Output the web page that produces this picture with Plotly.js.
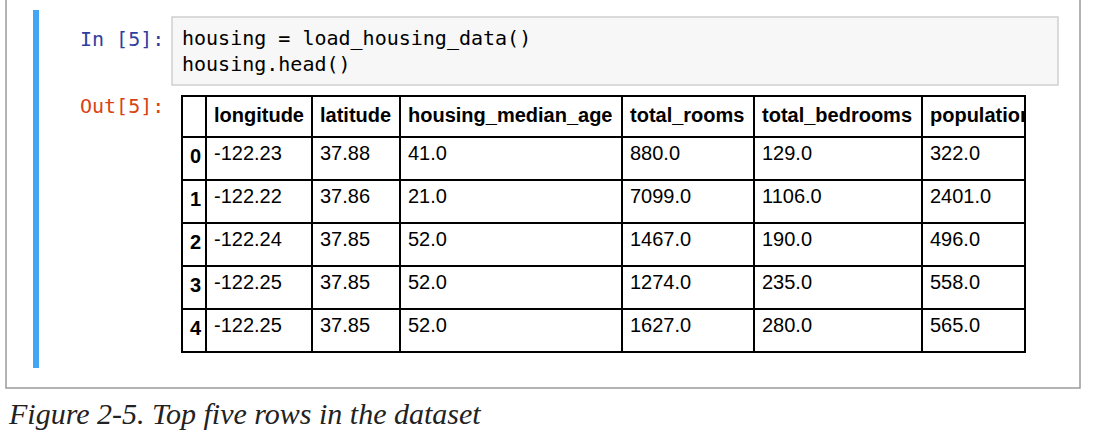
<!DOCTYPE html>
<html>
<head>
<meta charset="utf-8">
<script src="https://cdn.plot.ly/plotly-3.0.1.min.js"></script>
<style>html,body{margin:0;padding:0;background:#fff;}#chart{width:1098px;height:435px;}</style>
</head>
<body>
<div id="chart"></div>
<script>
// data from housing.head()
var headers = ['', 'longitude', 'latitude', 'housing_median_age', 'total_rooms', 'total_bedrooms', 'population'];
var rowIndex = [0, 1, 2, 3, 4];
var longitude = [-122.23, -122.22, -122.24, -122.25, -122.25];
var latitude = [37.88, 37.86, 37.85, 37.85, 37.85];
var housingMedianAge = [41.0, 21.0, 52.0, 52.0, 52.0];
var totalRooms = [880.0, 7099.0, 1467.0, 1274.0, 1627.0];
var totalBedrooms = [129.0, 1106.0, 190.0, 235.0, 280.0];
var population = [322.0, 2401.0, 496.0, 558.0, 565.0];

var W = 1098, H = 435;
function px(x) { return x / W; }
function py(y) { return 1 - y / H; }

var table = {
  type: 'table',
  domain: {x: [px(182), px(1025)], y: [py(356), py(96)]},
  columnwidth: [24, 106, 88, 222, 132, 168, 103],
  header: {
    values: headers.map(function(h) { return '<b>' + h + '</b>'; }),
    align: 'left',
    height: 41,
    line: {color: '#000', width: 1.5},
    fill: {color: '#fff'},
    font: {family: 'Liberation Sans, Arial', size: 20, color: '#000'}
  },
  cells: {
    values: [rowIndex.map(function(i) { return '<b>' + i + '</b>'; }),
             longitude, latitude, housingMedianAge, totalRooms, totalBedrooms, population],
    format: ['', '.2f', '.2f', '.1f', '.1f', '.1f', '.1f'],
    align: 'left',
    height: 43,
    line: {color: '#000', width: 1.5},
    fill: {color: '#fff'},
    font: {family: 'Liberation Sans, Arial', size: 20, color: '#000'}
  }
};

var layout = {
  width: W, height: H,
  margin: {l: 0, r: 0, t: 0, b: 0},
  paper_bgcolor: '#fff',
  shapes: [
    {type: 'rect', xref: 'paper', yref: 'paper', x0: px(6), x1: px(1080), y0: py(388), y1: py(-2),
     line: {color: '#9a9a9a', width: 1.5}, fillcolor: 'rgba(0,0,0,0)'},
    {type: 'rect', xref: 'paper', yref: 'paper', x0: px(33), x1: px(39), y0: py(368), y1: py(10),
     line: {width: 0}, fillcolor: '#42a5f5'},
    {type: 'rect', xref: 'paper', yref: 'paper', x0: px(172), x1: px(1058), y0: py(85), y1: py(17),
     line: {color: '#cfcfcf', width: 1.5}, fillcolor: '#f7f7f7'}
  ],
  annotations: [
    {xref: 'paper', yref: 'paper', x: px(166), y: py(39), xanchor: 'right', yanchor: 'middle', showarrow: false,
     text: 'In [5]:', font: {family: 'DejaVu Sans Mono', size: 20, color: '#303f9f'}},
    {xref: 'paper', yref: 'paper', x: px(166), y: py(106), xanchor: 'right', yanchor: 'middle', showarrow: false,
     text: 'Out[5]:', font: {family: 'DejaVu Sans Mono', size: 20, color: '#d84315'}},
    {xref: 'paper', yref: 'paper', x: px(180), y: py(51), xanchor: 'left', yanchor: 'middle', showarrow: false,
     align: 'left', text: 'housing = load_housing_data()<br>housing.head()',
     font: {family: 'DejaVu Sans Mono', size: 20, color: '#000'}},
    {xref: 'paper', yref: 'paper', x: px(6), y: py(413), xanchor: 'left', yanchor: 'middle', showarrow: false,
     text: '<i>Figure 2-5. Top five rows in the dataset</i>',
     font: {family: 'Liberation Serif', size: 30, color: '#222'}}
  ]
};

Plotly.newPlot('chart', [table], layout, {displayModeBar: false, staticPlot: true});
</script>
</body>
</html>
